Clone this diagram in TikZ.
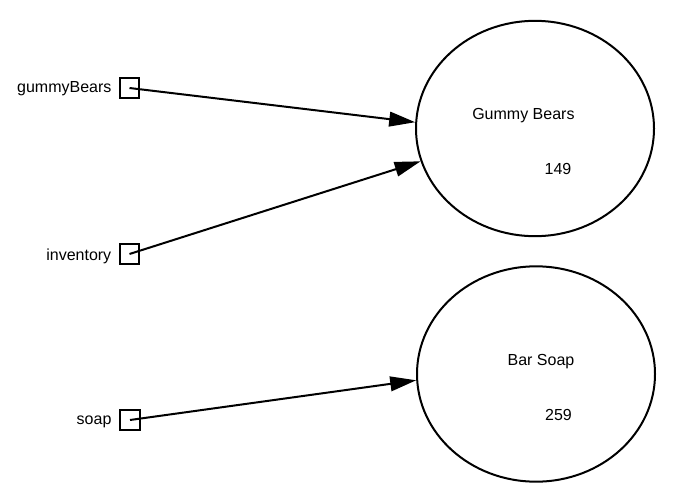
\documentclass[tikz,border=0pt]{standalone}
\usepackage{fontspec}
\setmainfont{Liberation Sans}
\usetikzlibrary{arrows.meta,shapes.geometric}
\begin{document}
\begin{tikzpicture}[x=0.75pt,y=-0.75pt,
  objnode/.style={draw,ellipse,line width=1.5pt,minimum width=178.5pt,minimum height=161.5pt,inner sep=0pt},
  varbox/.style={draw,rectangle,line width=1.5pt,minimum size=14.5pt,inner sep=0pt},
  txt/.style={font=\fontsize{12}{14}\selectfont,inner sep=0pt},
  ref/.style={line width=1.5pt,-{Triangle[length=19.5pt,width=11pt]}}]
\useasboundingbox (0,0) rectangle (684,503);
\node[objnode] (GB) at (535,128.5) {};
\node[objnode] (BS) at (536,374) {};
\node[txt,anchor=base] (gbname) at (523.4,119.5) {Gummy Bears};
\node[txt,anchor=base] (gbval) at (558,174) {149};
\node[txt,anchor=base] (bsname) at (541,365) {Bar Soap};
\node[txt,anchor=base] (bsval) at (558.5,420) {259};
\node[varbox] (gb) at (129.5,88) {};
\node[varbox] (inv) at (129.5,254) {};
\node[varbox] (soap) at (130,420) {};
\node[txt,anchor=base east] (gbl) at (111.7,92) {gummyBears};
\node[txt,anchor=base east] (invl) at (111.5,260) {inventory};
\node[txt,anchor=base east] (soapl) at (111.7,424) {soap};
\draw[ref] (gb.center) -- (GB.177.5);
\draw[ref] (inv.center) -- (GB.196.5);
\draw[ref] (soap.center) -- (BS.183.8);
\end{tikzpicture}
\end{document}
